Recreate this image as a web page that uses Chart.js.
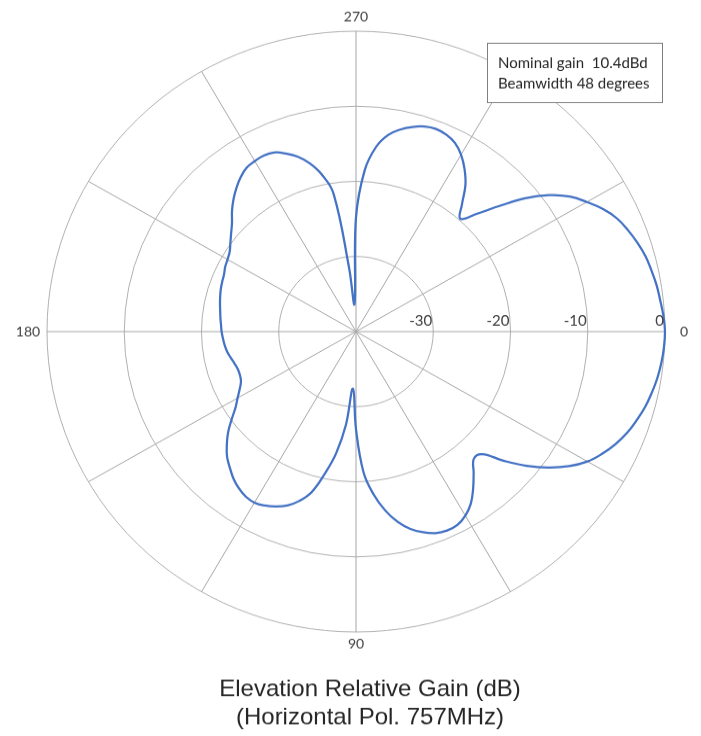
<!DOCTYPE html>
<html>
<head>
<meta charset="utf-8">
<script src="https://cdn.jsdelivr.net/npm/chart.js@4.4.1/dist/chart.umd.min.js"></script>
<style>
  body { margin: 0; background: #fff; }
  canvas { display: block; }
</style>
</head>
<body>
<canvas id="polar" width="701" height="757" style="width:701px;height:736px"></canvas>
<script>
// angles in degrees, clockwise from the right (0) - one sample every 3 deg
var angles = [
  0, 3, 6, 9, 12, 15, 18, 21, 24, 27,
  30, 33, 36, 39, 42, 45, 48, 51, 54, 57,
  60, 63, 66, 69, 72, 75, 78, 81, 84, 87,
  90, 93, 96, 99, 102, 105, 108, 111, 114, 117,
  120, 123, 126, 129, 132, 135, 138, 141, 144, 147,
  150, 153, 156, 159, 162, 165, 168, 171, 174, 177,
  180, 183, 186, 189, 192, 195, 198, 201, 204, 207,
  210, 213, 216, 219, 222, 225, 228, 231, 234, 237,
  240, 243, 246, 249, 252, 255, 258, 261, 264, 267,
  270, 273, 276, 279, 282, 285, 288, 291, 294, 297,
  300, 303, 306, 309, 312, 315, 318, 321, 324, 327,
  330, 333, 336, 339, 342, 345, 348, 351, 354, 357
];

// relative gain in dB
var gain = [
  0, -0.08, -0.25, -0.5, -0.85, -1.25, -1.8, -2.4, -3.2, -4.2,
  -5.4, -7.1, -9.2, -11.6, -14.3, -16.9, -17.2, -15.8, -14.2, -12.7,
  -11.7, -11.1, -11.0, -11.25, -11.9, -12.8, -14.1, -15.9, -18.2, -21.2,
  -27.0, -32.4, -27.5, -23.6, -20.7, -17.9, -16.3, -15.2, -14.5, -14.0,
  -13.7, -13.8, -14.2, -14.8, -15.6, -16.4, -17.5, -18.7, -20.1, -21.4,
  -22.3, -23.1, -23.7, -23.9, -23.9, -23.7, -23.4, -23.1, -22.9, -22.75,
  -22.6, -22.5, -22.35, -22.2, -22.0, -21.8, -21.6, -21.45, -21.3, -21.0,
  -20.8, -20.5, -19.9, -19.2, -18.4, -17.3, -16.3, -15.4, -14.6, -14.0,
  -13.8, -13.7, -13.9, -14.6, -15.5, -16.8, -18.6, -21.4, -31.5, -36.3,
  -24.8, -18.5, -15.3, -13.5, -12.5, -11.8, -11.3, -11.1, -11.3, -11.8,
  -12.8, -14.2, -15.9, -18.2, -19.8, -17.8, -15.0, -11.8, -9.1, -7.0,
  -5.5, -4.1, -3.0, -2.3, -1.7, -1.2, -0.9, -0.6, -0.4, -0.15
];

var tickValues = [-30, -20, -10, 0];
var angleLabels = [0, 90, 180, 270];
var spokeEvery = 30;
var noteLines = ['Nominal gain  10.4dBd', 'Beamwidth 48 degrees'];
var titleLines = ['Elevation Relative Gain (dB)', '(Horizontal Pol. 757MHz)'];

var textPlugin = {
  id: 'textPlugin',
  afterDraw: function(chart) {
    var r = chart.scales.r;
    var ctx = chart.ctx;
    var outer = r.getDistanceFromCenterForValue(r.max);
    ctx.save();

    // dB labels along the 0 deg axis
    ctx.font = '15px Lato';
    ctx.fillStyle = '#404040';
    ctx.textAlign = 'right';
    ctx.textBaseline = 'middle';
    tickValues.forEach(function(v) {
      var d = r.getDistanceFromCenterForValue(v);
      ctx.fillText(String(v), r.xCenter + d - 1, r.yCenter - 11);
    });

    // angle labels
    ctx.font = '14px Lato';
    ctx.textAlign = 'center';
    angleLabels.forEach(function(a) {
      var gap = a % 180 === 0 ? 19 : (a === 270 ? 15 : 12.5);
      var p = r.getPointPosition(angles.indexOf(a), outer + gap);
      ctx.fillText(String(a), p.x, p.y);
    });

    // note box
    ctx.fillStyle = '#fff';
    ctx.fillRect(487, 44, 175, 62);
    ctx.strokeStyle = '#7f7f7f';
    ctx.lineWidth = 1;
    ctx.strokeRect(487.5, 44.5, 175, 61);
    ctx.fillStyle = '#262626';
    ctx.font = '15px Lato';
    ctx.textAlign = 'left';
    ctx.textBaseline = 'alphabetic';
    ctx.fillText(noteLines[0], 498, 70);
    ctx.fillText(noteLines[1], 498, 91);

    // title under the plot
    ctx.font = '24px "Liberation Sans", Arial';
    ctx.fillStyle = '#262626';
    ctx.textAlign = 'center';
    ctx.textBaseline = 'middle';
    ctx.fillText(titleLines[0], 370, 709);
    ctx.fillText(titleLines[1], 370, 738);
    ctx.restore();
  }
};

var ctx = document.getElementById('polar').getContext('2d');
var polarChart = new Chart(ctx, {
  type: 'radar',
  data: {
    labels: angles,
    datasets: [{
      label: 'Gain',
      data: gain,
      borderColor: '#4472c4',
      borderWidth: 2.25,
      backgroundColor: 'transparent',
      fill: false,
      pointRadius: 0,
      pointHoverRadius: 0,
      tension: 0.4
    }]
  },
  options: {
    responsive: false,
    animation: false,
    layout: { padding: { left: 47, right: 36, top: 32, bottom: 107 } },
    plugins: {
      legend: { display: false },
      tooltip: { enabled: false }
    },
    scales: {
      r: {
        min: -40,
        max: 0,
        startAngle: 90,
        ticks: { display: false, stepSize: 10 },
        pointLabels: { display: false },
        grid: { circular: true, color: '#b0b0b0', lineWidth: 1 },
        angleLines: {
          color: '#a6a6a6',
          lineWidth: function(c) {
            return angles[c.index] % spokeEvery === 0 ? 1 : 0;
          }
        }
      }
    }
  },
  plugins: [textPlugin]
});
</script>
</body>
</html>
